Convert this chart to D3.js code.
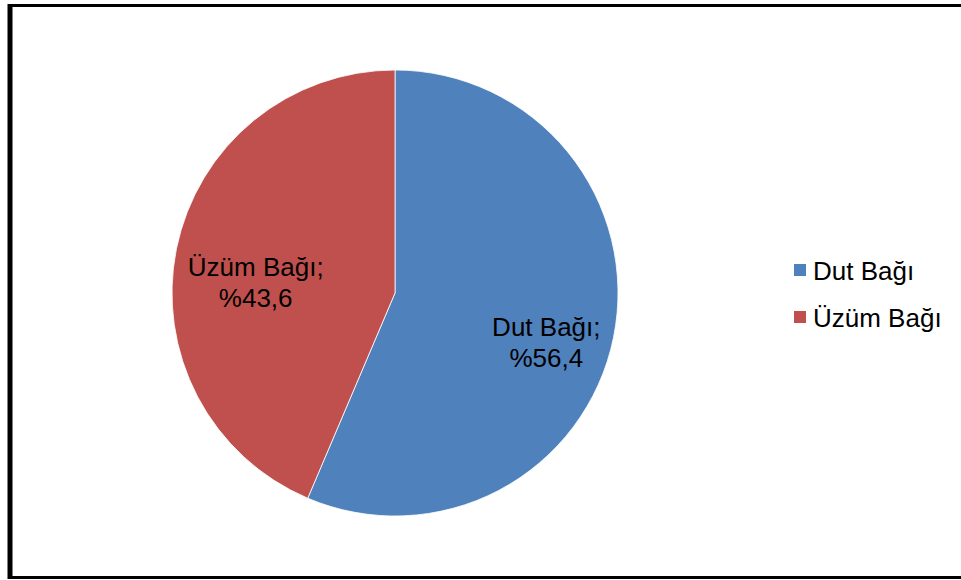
<!DOCTYPE html>
<html lang="en">
<head>
<meta charset="UTF-8">
<title>Pie</title>
<script src="https://cdn.jsdelivr.net/npm/d3@7"></script>
<style>
  body{margin:0;background:#fff;}
  text{font-family:"Liberation Sans",Arial,sans-serif;fill:#000;}
</style>
</head>
<body>
<div class="chart"></div>
<script>
// data
const categories=['Dut Bağı','Üzüm Bağı']
const values=[56.4,43.6]
const labelTexts=['%56,4','%43,6']
const colors=['#4F81BD','#C0504D']

const W=961,H=580
const svg=d3.select('.chart').append('svg').attr('width',W).attr('height',H)

// frame
svg.append('rect').attr('x',9.5).attr('y',5.5).attr('width',W).attr('height',572)
    .attr('fill','#fff').attr('stroke','#000').attr('stroke-width',3)
svg.append('line').attr('x1',10).attr('x2',10).attr('y1',4).attr('y2',579)
    .attr('stroke','#000').attr('stroke-width',5)

// pie
const cx=395,cy=293,r=223
const pie=d3.pie().sort(null).value(d=>d)
const arc=d3.arc().innerRadius(0).outerRadius(r)
const g=svg.append('g').attr('transform','translate('+cx+','+cy+')')
const arcs=pie(values)
g.selectAll('path').data(arcs).enter().append('path')
    .attr('d',arc).attr('fill',(d,i)=>colors[i])
    .attr('stroke','#fff').attr('stroke-width',0.8)

// data labels
const labelArc=d3.arc().innerRadius(r*0.665).outerRadius(r*0.665)
const lbl=g.selectAll('.lbl').data(arcs).enter().append('text').attr('class','lbl')
    .attr('text-anchor','middle').style('font-size','26px')
    .attr('transform',d=>{const c=labelArc.centroid(d);return 'translate('+(c[0]+6)+','+(c[1]+19)+')'})
lbl.append('tspan').attr('x',0).attr('y',-6).text((d,i)=>categories[i]+';')
lbl.append('tspan').attr('x',0).attr('y',25).text((d,i)=>labelTexts[i])

// legend
const leg=svg.append('g').attr('transform','translate(794,0)')
const items=leg.selectAll('g').data(categories).enter().append('g')
    .attr('transform',(d,i)=>'translate(0,'+(264+i*47)+')')
items.append('rect').attr('width',12).attr('height',12).attr('fill',(d,i)=>colors[i])
items.append('text').attr('x',19).attr('y',16).style('font-size','26px').text(d=>d)
</script>
</body>
</html>
